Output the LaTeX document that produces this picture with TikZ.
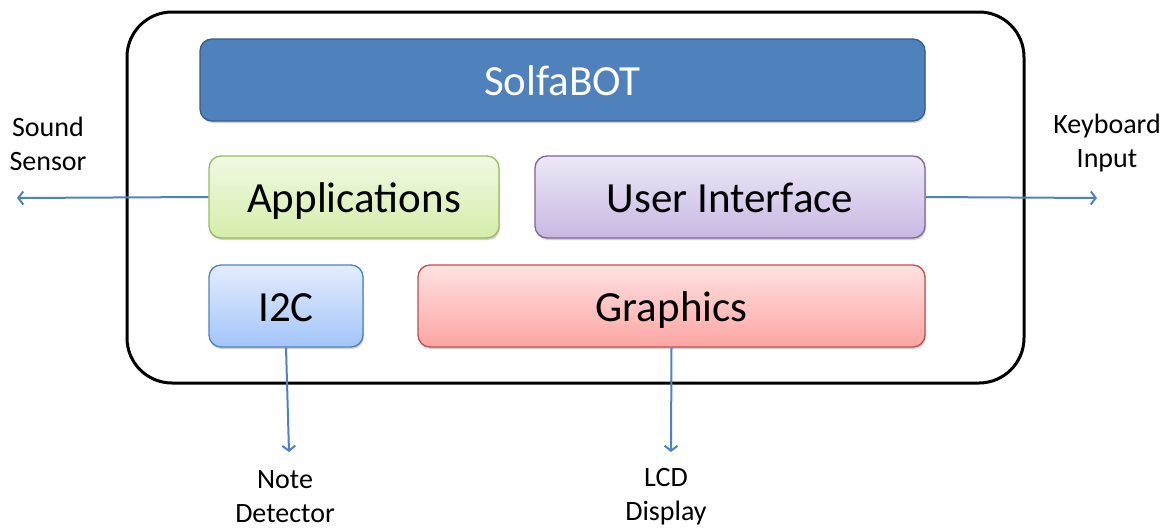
\documentclass[tikz,border=0pt]{standalone}
\usepackage{fontspec}
\setmainfont{Carlito}
\usetikzlibrary{arrows.meta,shadows}

\definecolor{frameblue}{RGB}{79,129,189}
\definecolor{frameblueedge}{RGB}{56,93,138}
\definecolor{greenedge}{RGB}{155,187,89}
\definecolor{greentop}{RGB}{241,249,228}
\definecolor{greenbot}{RGB}{213,237,170}
\definecolor{purpleedge}{RGB}{128,100,162}
\definecolor{purpletop}{RGB}{237,232,247}
\definecolor{purplebot}{RGB}{200,184,226}
\definecolor{blueedge}{RGB}{79,129,189}
\definecolor{bluetop}{RGB}{228,237,253}
\definecolor{bluebot}{RGB}{163,196,250}
\definecolor{rededge}{RGB}{192,80,77}
\definecolor{redtop}{RGB}{255,226,226}
\definecolor{redbot}{RGB}{253,165,163}
\definecolor{linkblue}{RGB}{79,129,189}

\tikzset{
  layer/.style={rounded corners=12pt, line width=1.3pt, inner sep=0pt,
    minimum height=82pt, text height=36pt, text depth=6pt,
    font=\fontsize{43}{50}\selectfont,
    drop shadow={shadow xshift=1pt, shadow yshift=-2pt, opacity=0.18, fill=black}},
  extlabel/.style={align=center, font=\fontsize{28}{34}\selectfont, inner sep=0pt},
  link/.style={draw=linkblue, line width=2pt,
    -{Straight Barb[length=5pt, width=13pt, line width=2pt]}}
}

\begin{document}
\begin{tikzpicture}[x=1pt, y=-1pt]
\useasboundingbox (0,0) rectangle (1171,530);

% enclosing system boundary
\node[draw=black, line width=3pt, rounded corners=45pt,
      minimum width=897pt, minimum height=371pt] (frame) at (575.5,197.5) {};

% software layers
\node[layer, draw=frameblueedge, fill=frameblue, text=white,
      minimum width=725pt] (bot) at (562.5,80) {SolfaBOT};
\node[layer, draw=greenedge, top color=greentop, bottom color=greenbot,
      minimum width=290pt] (apps) at (354,197) {Applications};
\node[layer, draw=purpleedge, top color=purpletop, bottom color=purplebot,
      minimum width=390pt] (ui) at (730,197) {User Interface};
\node[layer, draw=blueedge, top color=bluetop, bottom color=bluebot,
      minimum width=154pt] (i2c) at (286,306) {I2C};
\node[layer, draw=rededge, top color=redtop, bottom color=redbot,
      minimum width=507pt] (gfx) at (671.5,306) {Graphics};

% external devices
\node[extlabel] (sound) at (48,143.5) {Sound\\Sensor};
\node[extlabel] (keys) at (1107,143.5) {Keyboard\\Input};
\node[extlabel] (note) at (285,497) {Note\\Detector};
\node[extlabel] (lcd) at (666,497) {LCD\\Display};

% arrow ends
\coordinate (soundin) at (17,198);
\coordinate (keysin) at (1097,198);
\coordinate (notein) at (289,452);
\coordinate (lcdin) at (671,452);

\draw[link] (apps.west) -- (soundin);
\draw[link] (ui.east) -- (keysin);
\draw[link] (i2c.south) -- (notein);
\draw[link] (gfx.south) -- (lcdin);
\end{tikzpicture}
\end{document}
